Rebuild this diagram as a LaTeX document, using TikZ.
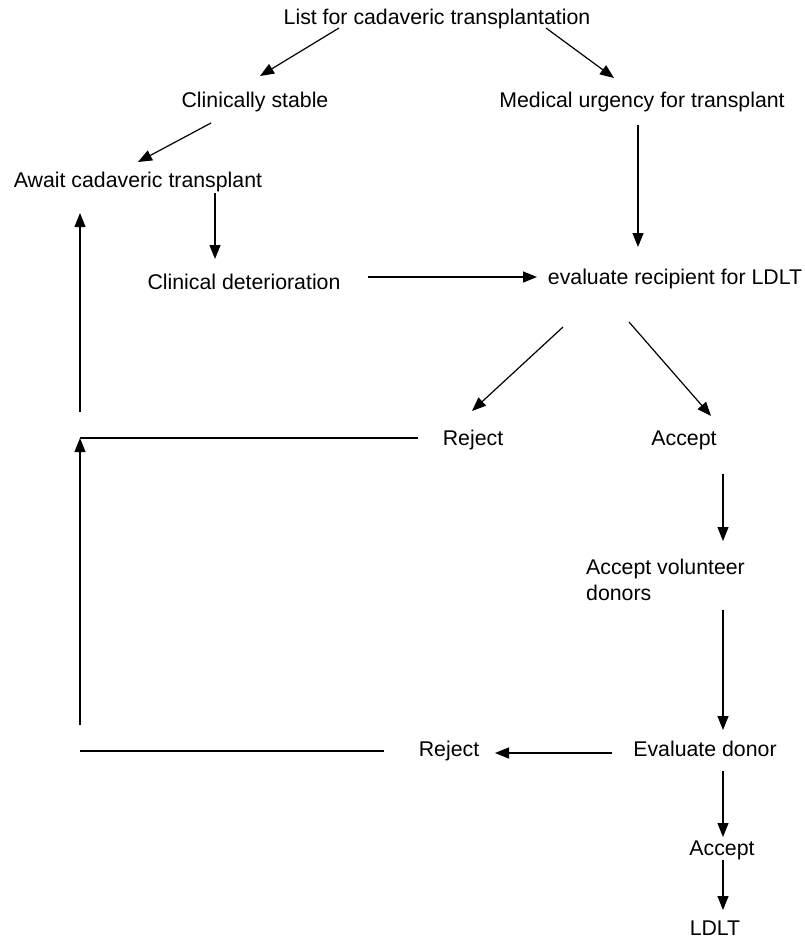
\documentclass[tikz,border=0pt]{standalone}
\usepackage{fontspec}
\setmainfont{Liberation Sans}
\usetikzlibrary{arrows.meta}
\begin{document}
\begin{tikzpicture}[x=1pt,y=-1pt,
  lbl/.style={inner sep=0pt,anchor=base,font=\fontsize{21.3}{26}\selectfont},
  arr/.style={line width=1.2pt,-{Triangle[length=14pt,width=11pt]}},
  ln/.style={line width=1.2pt}]
\useasboundingbox (0,0) rectangle (805,940);
\fill[white] (0,0) rectangle (805,940);
% nodes
\node[lbl] (list) at (437,24) {List for cadaveric transplantation};
\node[lbl] (stable) at (255,107) {Clinically stable};
\node[lbl] (medical) at (642,107) {Medical urgency for transplant};
\node[lbl] (await) at (138,187) {Await cadaveric transplant};
\node[lbl] (det) at (244,289) {Clinical deterioration};
\node[lbl] (evalr) at (675,284) {evaluate recipient for LDLT};
\node[lbl] (rej1) at (473,445) {Reject};
\node[lbl] (acc1) at (684,445) {Accept};
\node[lbl,anchor=north west,align=left] (vol) at (586,558.5) {Accept volunteer\\donors};
\node[lbl] (evald) at (705,756) {Evaluate donor};
\node[lbl] (rej2) at (449,756) {Reject};
\node[lbl] (acc2) at (722,855) {Accept};
\node[lbl] (ldlt) at (715,935) {LDLT};
% free ends
\coordinate (c1) at (80,438);
\coordinate (c2) at (80,412);
\coordinate (c3) at (80,751);
\coordinate (c4) at (80,725);
% connectors
\draw[arr] ([shift={(-98,4)}]list.base) -- ([shift={(5,-31)}]stable.base);
\draw[arr] ([shift={(109,4)}]list.base) -- ([shift={(-28,-29)}]medical.base);
\draw[arr] ([shift={(-44,16)}]stable.base) -- ([shift={(0,-25)}]await.base);
\draw[arr] ([shift={(77,6)}]await.base) -- ([shift={(-29,-30)}]det.base);
\draw[arr] ([shift={(-4,18)}]medical.base) -- ([shift={(-37,-37)}]evalr.base);
\draw[arr] ([shift={(124,-12)}]det.base) -- ([shift={(-138,-7)}]evalr.base);
\draw[arr] ([shift={(-112,43)}]evalr.base) -- ([shift={(-1,-34)}]rej1.base);
\draw[arr] ([shift={(-46,38)}]evalr.base) -- ([shift={(27,-29)}]acc1.base);
\draw[arr] ([shift={(39,29)}]acc1.base) -- ([shift={(137,-17.5)}]vol.north west);
\draw[arr] ([shift={(137,51.5)}]vol.north west) -- ([shift={(18,-26)}]evald.base);
\draw[arr] ([shift={(-93,-3)}]evald.base) -- ([shift={(46,-3)}]rej2.base);
\draw[arr] ([shift={(18,15)}]evald.base) -- ([shift={(1,-18)}]acc2.base);
\draw[arr] ([shift={(1,5)}]acc2.base) -- ([shift={(8,-25)}]ldlt.base);
\draw[ln] ([shift={(-55,-7)}]rej1.base) -- (c1);
\draw[arr] (c2) -- ([shift={(-58,26)}]await.base);
\draw[ln] ([shift={(-65,-5)}]rej2.base) -- (c3);
\draw[arr] (c4) -- (c1);
\end{tikzpicture}
\end{document}
